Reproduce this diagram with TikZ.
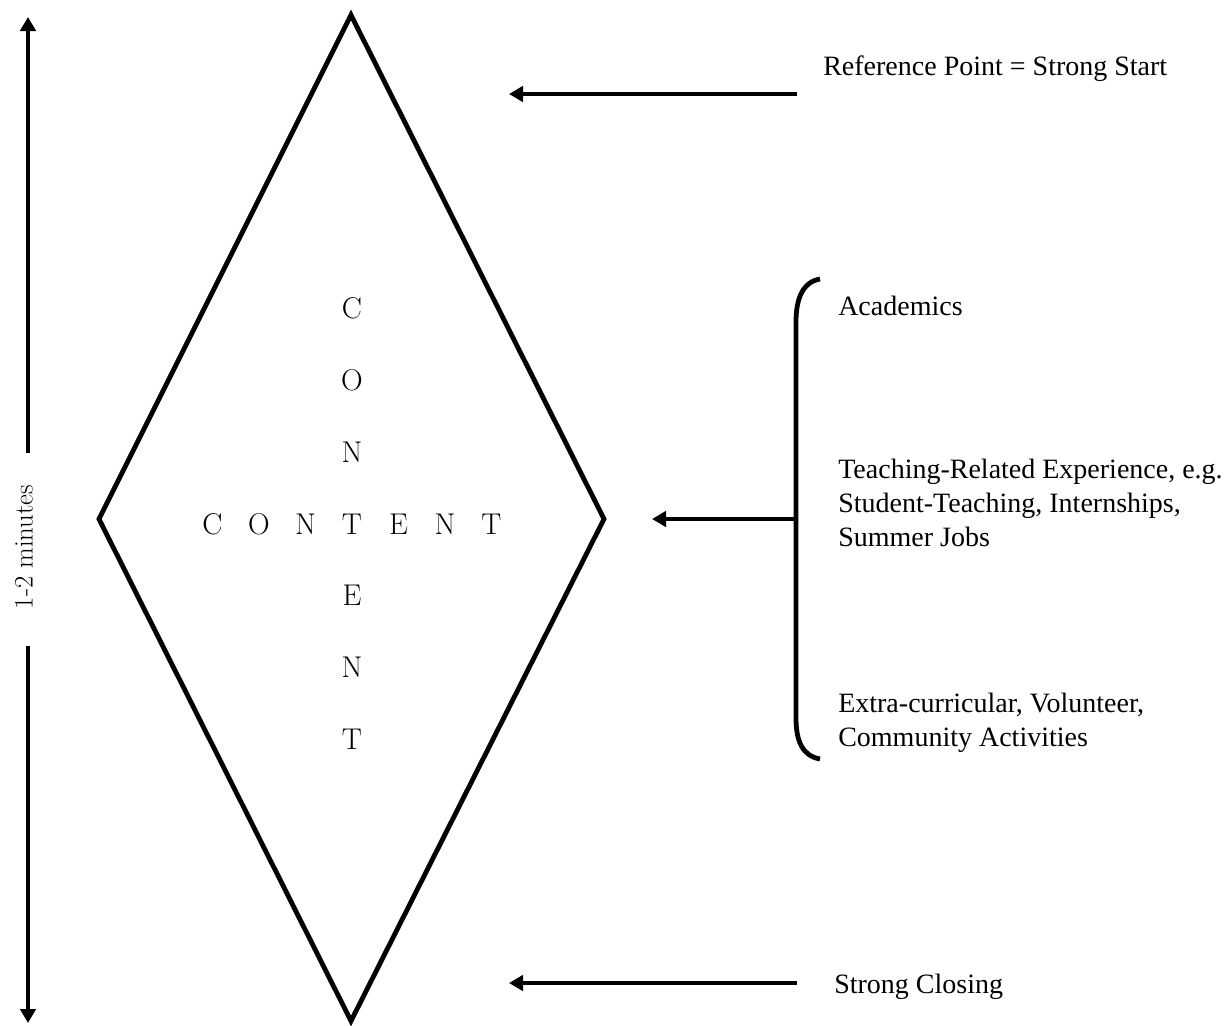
\documentclass[tikz,border=0pt]{standalone}
\usepackage{fontspec}
\newfontfamily\garafont{Liberation Serif}
\usetikzlibrary{arrows.meta}
\begin{document}
\begin{tikzpicture}[x=0.75pt,y=-0.75pt,
  stroke/.style={line width=3.6pt},
  arr/.style={line width=3.6pt,-{Triangle[length=10.5pt,width=11.5pt]}},
  lbl/.style={font=\garafont\fontsize{21}{25.2}\selectfont, anchor=base west, inner sep=0pt, align=left},
  letter/.style={font=\fontsize{22.5}{27}\selectfont, anchor=base, inner sep=0pt}]
\useasboundingbox (0,0) rectangle (1227,1025);
% diamond
\coordinate (dtop) at (351,15);
\coordinate (dright) at (604,519);
\coordinate (dbot) at (351,1021);
\coordinate (dleft) at (99,519);
\draw[stroke, line join=miter] (dtop) -- (dright) -- (dbot) -- (dleft) -- cycle;
% CONTENT across
\foreach \l [count=\i from 0] in {C,O,N,T,E,N,T}
  \node[letter] (h\i) at ({212.5+46.5*\i},534) {\l};
% CONTENT down
\foreach \l/\i in {C/0,O/1,N/2,E/4,N/5,T/6}
  \node[letter] (v\i) at (352,{534+71.8*(\i-3)}) {\l};
% duration arrow
\node[rotate=90, font=\fontsize{20}{24}\selectfont, inner sep=0pt] (dur) at (24,547) {1-2 minutes};
\coordinate (upstart) at (28,453);
\coordinate (uptip) at (28,17);
\coordinate (dnstart) at (28,646);
\coordinate (dntip) at (28,1023);
\draw[arr] (upstart) -- (uptip);
\draw[arr] (dnstart) -- (dntip);
% labels
\node[lbl] (ref) at (823,75) {Reference Point = Strong Start};
\node[lbl] (acad) at (838,315) {Academics};
\node[lbl] (teach) at (838,546) {Teaching-Related Experience, e.g.\\Student-Teaching, Internships,\\Summer Jobs};
\node[lbl] (extra) at (838,746) {Extra-curricular, Volunteer,\\Community Activities};
\node[lbl] (close) at (834,993) {Strong Closing};
% arrows
\coordinate (a1s) at (797,94);
\coordinate (a1e) at (509,94);
\draw[arr] (a1s) -- (a1e);
\coordinate (a3s) at (797,983);
\coordinate (a3e) at (509,983);
\draw[arr] (a3s) -- (a3e);
% bracket
\coordinate (btop) at (820,279);
\coordinate (bbot) at (820,759);
\coordinate (bmid) at (796,519);
\coordinate (a2e) at (652,519);
\draw[stroke] (btop) .. controls (803,282) and (796,298) .. (796,322) -- (796,718) .. controls (796,742) and (803,756) .. (bbot);
\draw[arr] (bmid) -- (a2e);
\end{tikzpicture}
\end{document}
